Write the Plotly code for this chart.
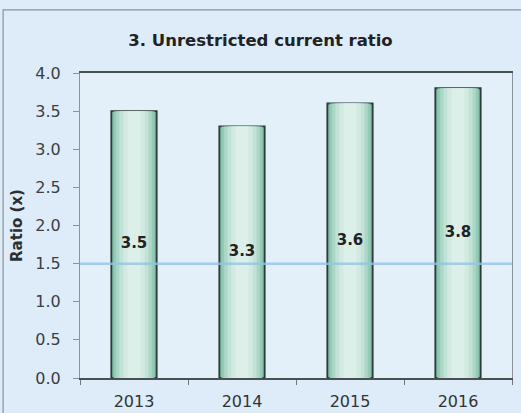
import plotly.graph_objects as go

# Chart data
years = ["2013", "2014", "2015", "2016"]
ratios = [3.5, 3.3, 3.6, 3.8]
labels = ["3.5", "3.3", "3.6", "3.8"]
benchmark = 1.5
y_ticks = [0.0, 0.5, 1.0, 1.5, 2.0, 2.5, 3.0, 3.5, 4.0]

# Layered bars of shrinking width give a soft horizontal gradient
layer_widths = [0.42, 0.38, 0.33, 0.27, 0.20, 0.12]
layer_colors = ["#78b9a3", "#94cab6", "#acd7c7", "#c1e2d6", "#d2eae1", "#dcf0e9"]

fig = go.Figure()
for i, (w, c) in enumerate(zip(layer_widths, layer_colors)):
    fig.add_trace(go.Bar(
        x=years, y=ratios, width=w,
        marker=dict(color=c,
                    line=dict(color="#2f3b36" if i == 0 else c,
                              width=1.8 if i == 0 else 0)),
        hoverinfo="skip", showlegend=False,
    ))

# Value labels centred inside each bar
fig.add_trace(go.Scatter(
    x=years, y=[v / 2 for v in ratios], mode="text",
    text=[f"<b>{t}</b>" for t in labels],
    textfont=dict(family="DejaVu Sans", size=15, color="#222222"),
    textposition="middle center", showlegend=False, hoverinfo="skip",
    cliponaxis=False,
))

# Benchmark line
fig.add_shape(type="line", xref="paper", yref="y", x0=0, x1=1,
              y0=benchmark, y1=benchmark,
              line=dict(color="#92c4e8", width=2.5), layer="above", opacity=0.8)

# Outer frame around the chart
fig.add_shape(type="rect", xref="paper", yref="paper",
              x0=-0.178, x1=1.03, y0=-0.12, y1=1.207,
              line=dict(color="#8a9196", width=1.2), layer="below")

fig.update_layout(
    width=521, height=413,
    margin=dict(l=80, r=9, t=73, b=35),
    paper_bgcolor="#ddecf8",
    plot_bgcolor="#e3f0fa",
    barmode="overlay",
    title=dict(text="<b>3. Unrestricted current ratio</b>",
               x=0.5, xref="container", xanchor="center",
               y=1 - 40 / 413, yanchor="middle",
               font=dict(family="DejaVu Sans", size=16.5, color="#222222")),
    font=dict(family="DejaVu Sans", color="#333333"),
)

fig.update_xaxes(
    type="category", showgrid=False, automargin=False,
    showline=True, linecolor="#4a4f52", linewidth=1.5, mirror=True,
    ticks="outside", tickson="boundaries", ticklen=5, tickcolor="#777777",
    ticklabelstandoff=8,
    tickfont=dict(size=16, color="#333333"),
)
fig.update_yaxes(
    range=[0, 4.0], tickvals=y_ticks, automargin=False,
    ticktext=[f"{v:.1f}" for v in y_ticks],
    showgrid=False, zeroline=False,
    showline=True, linecolor="#8d9499", linewidth=1.2, mirror=True,
    ticks="outside", ticklen=6, tickcolor="#8d9499",
    ticklabelstandoff=9,
    tickfont=dict(size=16, color="#3a3f44"),
    title=dict(text="<b>Ratio (x)</b>", standoff=8,
               font=dict(size=15, color="#2a2f33")),
)

fig.write_html("out.html")
